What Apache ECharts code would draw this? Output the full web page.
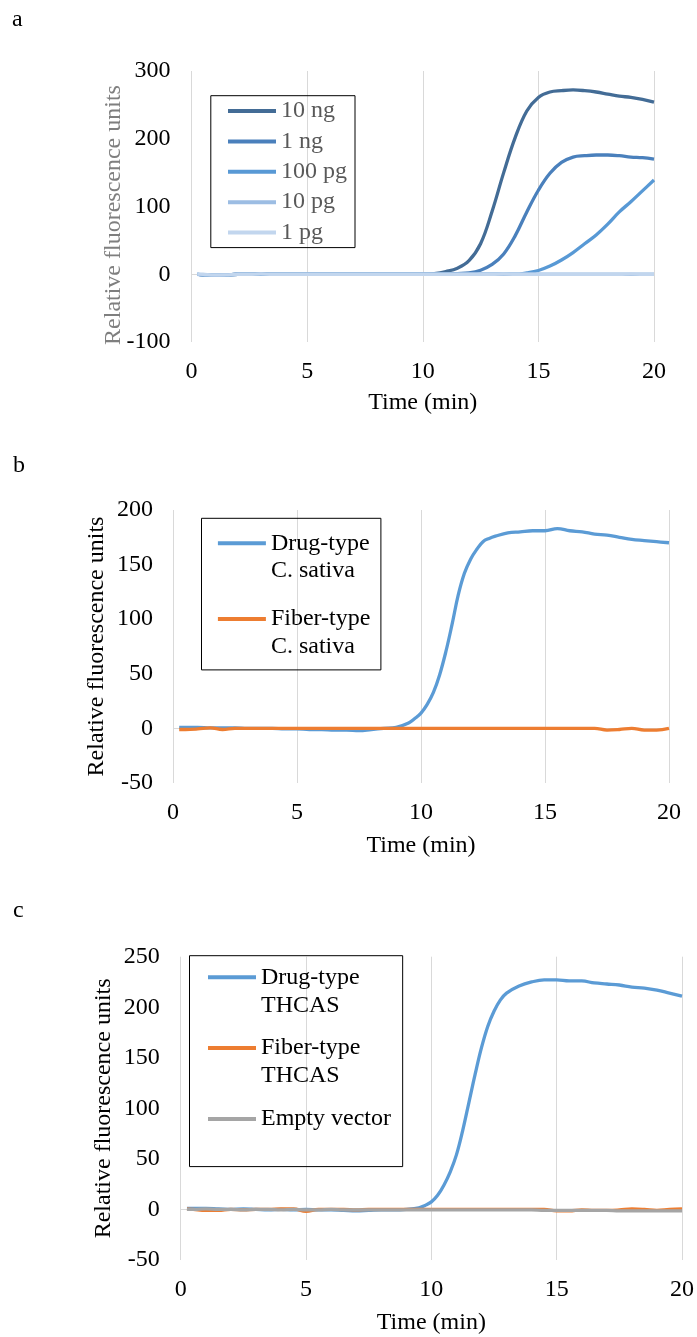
<!DOCTYPE html>
<html>
<head>
<meta charset="utf-8">
<script src="https://cdn.jsdelivr.net/npm/echarts@6/dist/echarts.min.js"></script>
<style>
html, body { margin: 0; padding: 0; background: #fff; }
#chart { width: 697px; height: 1337px; }
</style>
</head>
<body>
<div id="chart"></div>
<script>
// panel a: dilution series (time in min)
var timeA = [0.25, 0.5, 1, 1.5, 2, 2.5, 3, 3.5, 4, 4.5, 5, 5.5, 6, 6.5, 7, 7.5, 8, 8.5, 9, 9.5,
    10, 10.5, 11, 11.5, 12, 12.5, 13, 13.5, 14, 14.5, 15, 15.5, 16, 16.5, 17, 17.5, 18, 18.5, 19, 19.5, 20];
var namesA = ['10 ng', '1 ng', '100 pg', '10 pg', '1 pg'];
var ng10 = [0, -1, -1, -1, 0, 0, 0, 0, 0, 0, 0, 0, 0, 0, 0, 0, 0, 0, 0, 0,
    0, 1, 4, 9, 20, 45, 93, 150, 202, 241, 261, 269, 271, 272, 271, 269, 266, 263, 261, 258, 254];
var ng1 = [0, -1, -1, -1, 0, 0, 0, 0, 0, 0, 0, 0, 0, 0, 0, 0, 0, 0, 0, 0,
    0, 0, 0.5, 1, 2, 6, 14.5, 30, 57, 92, 124, 149, 165, 173, 175, 176, 176, 175, 173, 172, 170];
var pg100 = [0, -1, -1, -1, 0, 0, 0, 0, 0, 0, 0, 0, 0, 0, 0, 0, 0, 0, 0, 0,
    0, 0, 0, 0, 0, 0, 0, 0, 0, 2, 5.5, 12, 21, 32, 45, 58, 74, 92, 107, 123, 139];
var pg10 = [0, -1, -1.5, -1, 0, 0, 0.5, 0, 0, 0, 0, 0, 0, 0, 0, 0, 0, 0, 0, 0,
    0, 0, 0, 0, 0, 0, 0, 0, 0, 0, 0, 0, 0, 0, 0, 0, 0, 0, 0, 0, 0];
var pg1 = [0.5, 0, -1, -1, 0, 0, 0.5, 0, 0, 0, 0, 0, 0, 0, 0, 0, 0, 0, 0, 0,
    0, 0, 0, 0, 0, 0, 0, 0.5, 0, 0, 0, 0, 0, 0, 0, 0, 0, 0, 0.5, 0, 0];

// panels b and c share the sampling times (finer around the rise)
var timeBC = [0.25, 0.5, 1, 1.5, 2, 2.5, 3, 3.5, 4, 4.5, 5, 5.5, 6, 6.5, 7, 7.5, 8, 8.5, 9, 9.5,
    9.75, 10, 10.25, 10.5, 10.75, 11, 11.25, 11.5, 11.75, 12, 12.25, 12.5, 12.75, 13,
    13.5, 14, 14.5, 15, 15.5, 16, 16.5, 17, 17.5, 18, 18.5, 19, 19.5, 20];

// panel b
var namesB = ['Drug-type\nC. sativa', 'Fiber-type\nC. sativa'];
var drugB = [1, 1, 1, 0.5, 0.5, 0.5, 0, 0, 0, -0.5, -0.5, -1, -1, -1.5, -1.5, -2, -1, 0, 1, 5,
    9, 14, 22, 33, 49, 70, 95, 122, 142, 155, 164, 171, 174, 176,
    179, 180, 181, 181, 183, 181, 180, 178, 177, 175, 173, 172, 171, 170];
var fiberB = [-1, -1, -0.5, 0.5, -1, 0, 0, 0, 0, 0, 0, 0, 0, 0, 0, 0, 0, 0, 0, 0,
    0, 0, 0, 0, 0, 0, 0, 0, 0, 0, 0, 0, 0, 0,
    0, 0, 0, 0, 0, 0, 0, 0, -1.5, -1, 0, -1.5, -1.5, 0];

// panel c
var namesC = ['Drug-type\nTHCAS', 'Fiber-type\nTHCAS', 'Empty vector\n'];
var drugC = [1, 1, 1, 0.5, 0, 0.5, 0, -0.5, 0, -0.5, 0, -0.5, -0.5, -1, -1.5, -1, -0.5, -0.5, 0, 1.5,
    4, 7.5, 14, 24, 37, 54, 78, 106, 134, 160, 181, 196, 207, 214,
    221, 225, 227, 227, 226, 226, 224, 223, 222, 220, 219, 217, 214, 211];
var fiberC = [0.5, 0, -1, -1, 0, -0.5, 0, 0, 0.5, 0.5, -2, 0, 0, 0, -0.5, 0, 0, 0, 0, 0,
    0, 0, 0, 0, 0, 0, 0, 0, 0, 0, 0, 0, 0, 0,
    0, 0, 0, -1.5, -1.5, -0.5, -1, -1, -0.5, 0.5, 0, -1, 0, 0.5];
var emptyC = [0, 0, 0.5, 0, 0, -0.5, 0, 0, -0.5, 0, -0.5, -0.5, 0, -0.5, -0.5, -0.5, -0.5, -0.5, -0.5, -0.5,
    -0.5, -0.5, -0.5, -0.5, -0.5, -0.5, -0.5, -0.5, -0.5, -0.5, -0.5, -0.5, -0.5, -0.5,
    -0.5, -0.5, -1, -1, -1, -1, -1, -1, -1.5, -1.5, -1.5, -1.5, -1.5, -1.5];

var FONT = "'Liberation Serif', 'Times New Roman', serif";
var GREY_TEXT = '#595959';
var GRID_LINE = '#d9d9d9';

function pairs(t, v) {
    return t.map(function (x, i) { return [x, v[i]]; });
}

// legend line icon: a 4px bar sitting at height c inside a 48 x h box
function lineIcon(h, c) {
    var a = c - 2, b = c + 2;
    return 'path://M0,0L0,0M0,' + a + 'L48,' + a + 'L48,' + b + 'L0,' + b + 'ZM48,' + h + 'L48,' + h;
}

function line(name, idx, t, v, color, zero) {
    var s = {
        name: name,
        type: 'line',
        xAxisIndex: idx,
        yAxisIndex: idx,
        data: pairs(t, v),
        showSymbol: false,
        symbol: 'none',
        smooth: 0.4,
        color: color,
        lineStyle: { width: 3.3, color: color }
    };
    if (zero) {
        // horizontal axis line crossing at 0, like the spreadsheet chart
        s.markLine = {
            silent: true,
            symbol: 'none',
            z: 1,
            label: { show: false },
            lineStyle: { color: GRID_LINE, width: 1, type: 'solid' },
            data: [{ yAxis: 0 }]
        };
    }
    return s;
}

function xAx(idx, gap) {
    return {
        type: 'value', gridIndex: idx, min: 0, max: 20, interval: 5,
        name: 'Time (min)', nameLocation: 'middle', nameGap: gap,
        nameMoveOverlap: false,
        nameTextStyle: { fontFamily: FONT, fontSize: 24, color: '#000' },
        axisLine: { show: false, onZero: false },
        axisTick: { show: false },
        axisLabel: { fontFamily: FONT, fontSize: 24, color: '#000', margin: 18 },
        splitLine: { show: true, lineStyle: { color: GRID_LINE, width: 1 } }
    };
}

function yAx(idx, min, max, step, nameColor, gap, margin, namePad) {
    return {
        type: 'value', gridIndex: idx, min: min, max: max, interval: step,
        name: 'Relative fluorescence units', nameLocation: 'middle', nameGap: gap,
        nameMoveOverlap: false,
        nameTextStyle: { fontFamily: FONT, fontSize: 24, color: nameColor, padding: namePad || 0 },
        axisLine: { show: false },
        axisTick: { show: false },
        axisLabel: { fontFamily: FONT, fontSize: 24, color: '#000', margin: margin },
        splitLine: { show: false }
    };
}

var chart = echarts.init(document.getElementById('chart'));

var option = {
    animation: false,
    backgroundColor: '#fff',
    title: [
        { text: 'a', left: 12, top: 8, padding: 0, textStyle: { fontFamily: FONT, fontSize: 24, fontWeight: 'normal', color: '#000' } },
        { text: 'b', left: 13, top: 454, padding: 0, textStyle: { fontFamily: FONT, fontSize: 24, fontWeight: 'normal', color: '#000' } },
        { text: 'c', left: 13, top: 899, padding: 0, textStyle: { fontFamily: FONT, fontSize: 24, fontWeight: 'normal', color: '#000' } }
    ],
    grid: [
        { left: 191.5, top: 71, width: 462.5, height: 271 },
        { left: 173, top: 510, width: 496, height: 273 },
        { left: 180.7, top: 956.7, width: 502, height: 303.3 }
    ],
    xAxis: [xAx(0, 49), xAx(1, 51), xAx(2, 51)],
    yAxis: [
        yAx(0, -100, 300, 100, '#7f7f7f', 65.5, 21, [0, 17, 0, 0]),
        yAx(1, -50, 200, 50, '#000', 64, 20),
        yAx(2, -50, 250, 50, '#000', 65, 21)
    ],
    legend: [
        {
            data: namesA, orient: 'vertical', left: 210.8, top: 95.7,
            icon: lineIcon(24, 12), itemWidth: 48, itemHeight: 24, itemGap: 6.4,
            padding: [3.3, 8, 3, 17.2], borderColor: '#000', borderWidth: 1,
            selectedMode: false, itemStyle: { borderWidth: 0 },
            textStyle: { fontFamily: FONT, fontSize: 24, lineHeight: 24, color: GREY_TEXT }
        },
        {
            data: namesB, orient: 'vertical', left: 201.5, top: 518.3,
            icon: lineIcon(55, 13.75), itemWidth: 48, itemHeight: 55, itemGap: 20.7,
            padding: [11.2, 10.5, 9.7, 16.4], borderColor: '#000', borderWidth: 1,
            selectedMode: false, itemStyle: { borderWidth: 0 },
            textStyle: { fontFamily: FONT, fontSize: 24, lineHeight: 27.5, color: '#000' }
        },
        {
            data: namesC, orient: 'vertical', left: 189.5, top: 955.7,
            icon: lineIcon(56, 14), itemWidth: 48, itemHeight: 56, itemGap: 14.8,
            padding: [7.6, 11.7, 5.7, 18.5], borderColor: '#000', borderWidth: 1,
            selectedMode: false, itemStyle: { borderWidth: 0 },
            textStyle: { fontFamily: FONT, fontSize: 24, lineHeight: 28, color: '#000' }
        }
    ],
    series: [
        line(namesA[0], 0, timeA, ng10, '#436c96', true),
        line(namesA[1], 0, timeA, ng1, '#4a80bc'),
        line(namesA[2], 0, timeA, pg100, '#5899d5'),
        line(namesA[3], 0, timeA, pg10, '#9cbde3'),
        line(namesA[4], 0, timeA, pg1, '#c2d6ee'),
        line(namesB[0], 1, timeBC, drugB, '#5b9bd5', true),
        line(namesB[1], 1, timeBC, fiberB, '#ed7d31'),
        line(namesC[0], 2, timeBC, drugC, '#5b9bd5', true),
        line(namesC[1], 2, timeBC, fiberC, '#ed7d31'),
        line(namesC[2], 2, timeBC, emptyC, '#a5a5a5')
    ]
};

chart.setOption(option);
</script>
</body>
</html>
